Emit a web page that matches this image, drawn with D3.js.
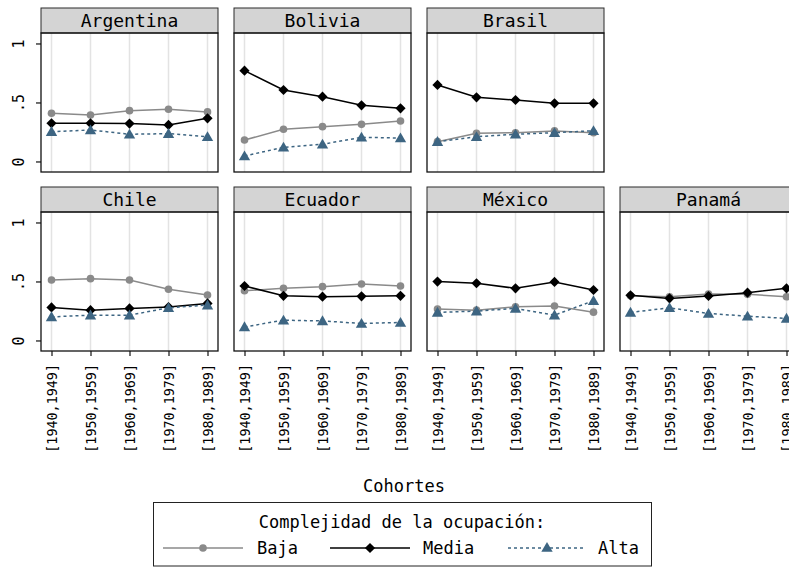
<!DOCTYPE html>
<html>
<head>
<meta charset="utf-8">
<script src="https://cdn.jsdelivr.net/npm/d3@7"></script>
<style>
  html, body { margin: 0; padding: 0; background: #fff; }
  svg { display: block; }
  text { font-family: "DejaVu Sans Mono", "Liberation Mono", monospace; fill: #000; }
</style>
</head>
<body>
<script>
// Cohorts on the x axis and the seven countries, in panel order
const cohortes = ["[1940,1949]", "[1950,1959]", "[1960,1969]", "[1970,1979]", "[1980,1989]"];
const paises = ["Argentina", "Bolivia", "Brasil", "Chile", "Ecuador", "México", "Panamá"];

// Share of each occupational complexity level, one row per country
const baja = [
  [0.413, 0.398, 0.435, 0.447, 0.424],
  [0.186, 0.277, 0.299, 0.319, 0.347],
  [0.172, 0.243, 0.248, 0.263, 0.248],
  [0.517, 0.528, 0.517, 0.438, 0.389],
  [0.426, 0.446, 0.460, 0.483, 0.466],
  [0.270, 0.261, 0.290, 0.296, 0.244],
  [0.383, 0.375, 0.398, 0.395, 0.375]
];
const media = [
  [0.328, 0.328, 0.325, 0.314, 0.370],
  [0.774, 0.610, 0.553, 0.480, 0.455],
  [0.653, 0.548, 0.525, 0.497, 0.497],
  [0.284, 0.261, 0.276, 0.287, 0.318],
  [0.466, 0.383, 0.375, 0.378, 0.383],
  [0.503, 0.489, 0.446, 0.500, 0.432],
  [0.387, 0.361, 0.381, 0.409, 0.446]
];
const alta = [
  [0.257, 0.271, 0.235, 0.240, 0.214],
  [0.051, 0.124, 0.150, 0.209, 0.203],
  [0.172, 0.214, 0.235, 0.248, 0.265],
  [0.204, 0.219, 0.219, 0.281, 0.304],
  [0.119, 0.176, 0.170, 0.148, 0.157],
  [0.242, 0.253, 0.276, 0.219, 0.341],
  [0.242, 0.281, 0.233, 0.210, 0.191]
];
const yTicks = [0, 0.5, 1];
const yTickLabels = ["0", ".5", "1"];

// Diamond drawn as a square turned 45 degrees
const diamond = {
  draw(ctx, size) {
    const r = Math.sqrt(size / 2);
    ctx.moveTo(0, -r); ctx.lineTo(r, 0); ctx.lineTo(0, r); ctx.lineTo(-r, 0); ctx.closePath();
  }
};

const series = [
  { name: "Baja",  values: baja,  color: "#8a8a8a", dash: null,  symbol: d3.symbolCircle,   size: 46, dy: 0 },
  { name: "Media", values: media, color: "#000000", dash: null,  symbol: diamond,           size: 52, dy: 0 },
  { name: "Alta",  values: alta,  color: "#3d6582", dash: "3,3", symbol: d3.symbolTriangle, size: 56, dy: 1 }
];

const W = 789, H = 567;
const svg = d3.select("body").append("svg").attr("width", W).attr("height", H);

// Panel geometry
const colX = [41, 234, 427, 620];
const rowTop = [8, 187];
const panelW = 177, headerH = 25, plotH = 139;

function panelPos(i) {
  return i < 3 ? { row: 0, col: i } : { row: 1, col: i - 3 };
}

paises.forEach((pais, i) => {
  const { row, col } = panelPos(i);
  const x0 = colX[col];
  const top = rowTop[row];
  const plotTop = top + headerH;
  const plotBottom = plotTop + plotH;

  const x = d3.scalePoint().domain(cohortes).range([x0 + 10.5, x0 + panelW - 10.5]);
  const y = d3.scaleLinear().domain([-0.085, 1.093]).range([plotBottom, plotTop]);

  const g = svg.append("g");

  // vertical gridlines
  g.selectAll("line.grid").data(cohortes).join("line")
    .attr("x1", d => x(d)).attr("x2", d => x(d))
    .attr("y1", plotTop).attr("y2", plotBottom)
    .attr("stroke", "#e3e3e3").attr("stroke-width", 1.5);

  // strip header
  g.append("rect")
    .attr("x", x0).attr("y", top).attr("width", panelW).attr("height", headerH)
    .attr("fill", "#d4d4d4").attr("stroke", "#2a2a2a").attr("stroke-width", 1);
  g.append("text")
    .attr("x", x0 + panelW / 2).attr("y", top + headerH / 2 + 6)
    .attr("text-anchor", "middle").attr("font-size", 18)
    .text(pais);

  // series lines and markers
  series.forEach(s => {
    const vals = s.values[i];
    const line = d3.line().x((d, k) => x(cohortes[k])).y(d => y(d));
    g.append("path")
      .attr("d", line(vals))
      .attr("fill", "none")
      .attr("stroke", s.color)
      .attr("stroke-width", 1.5)
      .attr("stroke-dasharray", s.dash);
    g.selectAll(null).data(vals).join("path")
      .attr("transform", (d, k) => `translate(${x(cohortes[k])},${y(d) + s.dy})`)
      .attr("d", d3.symbol().type(s.symbol).size(s.size))
      .attr("fill", s.color);
  });

  // plot frame
  g.append("rect")
    .attr("x", x0).attr("y", plotTop).attr("width", panelW).attr("height", plotH)
    .attr("fill", "none").attr("stroke", "#111").attr("stroke-width", 1.3);

  // y axis on the first column
  if (col === 0) {
    const ya = g.append("g");
    yTicks.forEach((t, k) => {
      ya.append("line")
        .attr("x1", x0 - 5).attr("x2", x0)
        .attr("y1", y(t)).attr("y2", y(t))
        .attr("stroke", "#111").attr("stroke-width", 1.2);
      ya.append("text")
        .attr("transform", `translate(${x0 - 17},${y(t)}) rotate(-90)`)
        .attr("text-anchor", "middle").attr("font-size", 15)
        .text(yTickLabels[k]);
    });
  }

  // x axis labels on the bottom row
  if (row === 1) {
    const xa = d3.axisBottom(x).tickSize(5).tickPadding(0);
    const ax = g.append("g").attr("transform", `translate(0,${plotBottom})`).call(xa);
    ax.select(".domain").remove();
    ax.selectAll(".tick line").attr("stroke", "#111").attr("stroke-width", 1.2);
    ax.selectAll(".tick text")
      .attr("font-size", 13.4)
      .attr("fill", "#000")
      .attr("transform", "rotate(-90)")
      .attr("text-anchor", "end")
      .attr("x", -13)
      .attr("y", 0)
      .attr("dy", "0.36em");
  }
});

// x axis title
svg.append("text")
  .attr("x", 404).attr("y", 492)
  .attr("text-anchor", "middle").attr("font-size", 17)
  .text("Cohortes");

// legend
const lg = svg.append("g");
lg.append("rect")
  .attr("x", 153.5).attr("y", 502.5).attr("width", 498).attr("height", 63.5)
  .attr("fill", "#fff").attr("stroke", "#222").attr("stroke-width", 1);
lg.append("text")
  .attr("x", 402).attr("y", 528)
  .attr("text-anchor", "middle").attr("font-size", 17)
  .text("Complejidad de la ocupación:");

const legendItems = [
  { lx1: 163, lx2: 243, tx: 257 },
  { lx1: 330, lx2: 410, tx: 423 },
  { lx1: 508, lx2: 586, tx: 598 }
];
series.forEach((s, k) => {
  const it = legendItems[k];
  const yy = 548;
  lg.append("line")
    .attr("x1", it.lx1).attr("x2", it.lx2).attr("y1", yy).attr("y2", yy)
    .attr("stroke", s.color).attr("stroke-width", 1.5)
    .attr("stroke-dasharray", s.dash);
  lg.append("path")
    .attr("transform", `translate(${(it.lx1 + it.lx2) / 2},${yy + s.dy * 0.5})`)
    .attr("d", d3.symbol().type(s.symbol).size(s.size))
    .attr("fill", s.color);
  lg.append("text")
    .attr("x", it.tx).attr("y", yy + 6)
    .attr("font-size", 17)
    .text(s.name);
});
</script>
</body>
</html>
